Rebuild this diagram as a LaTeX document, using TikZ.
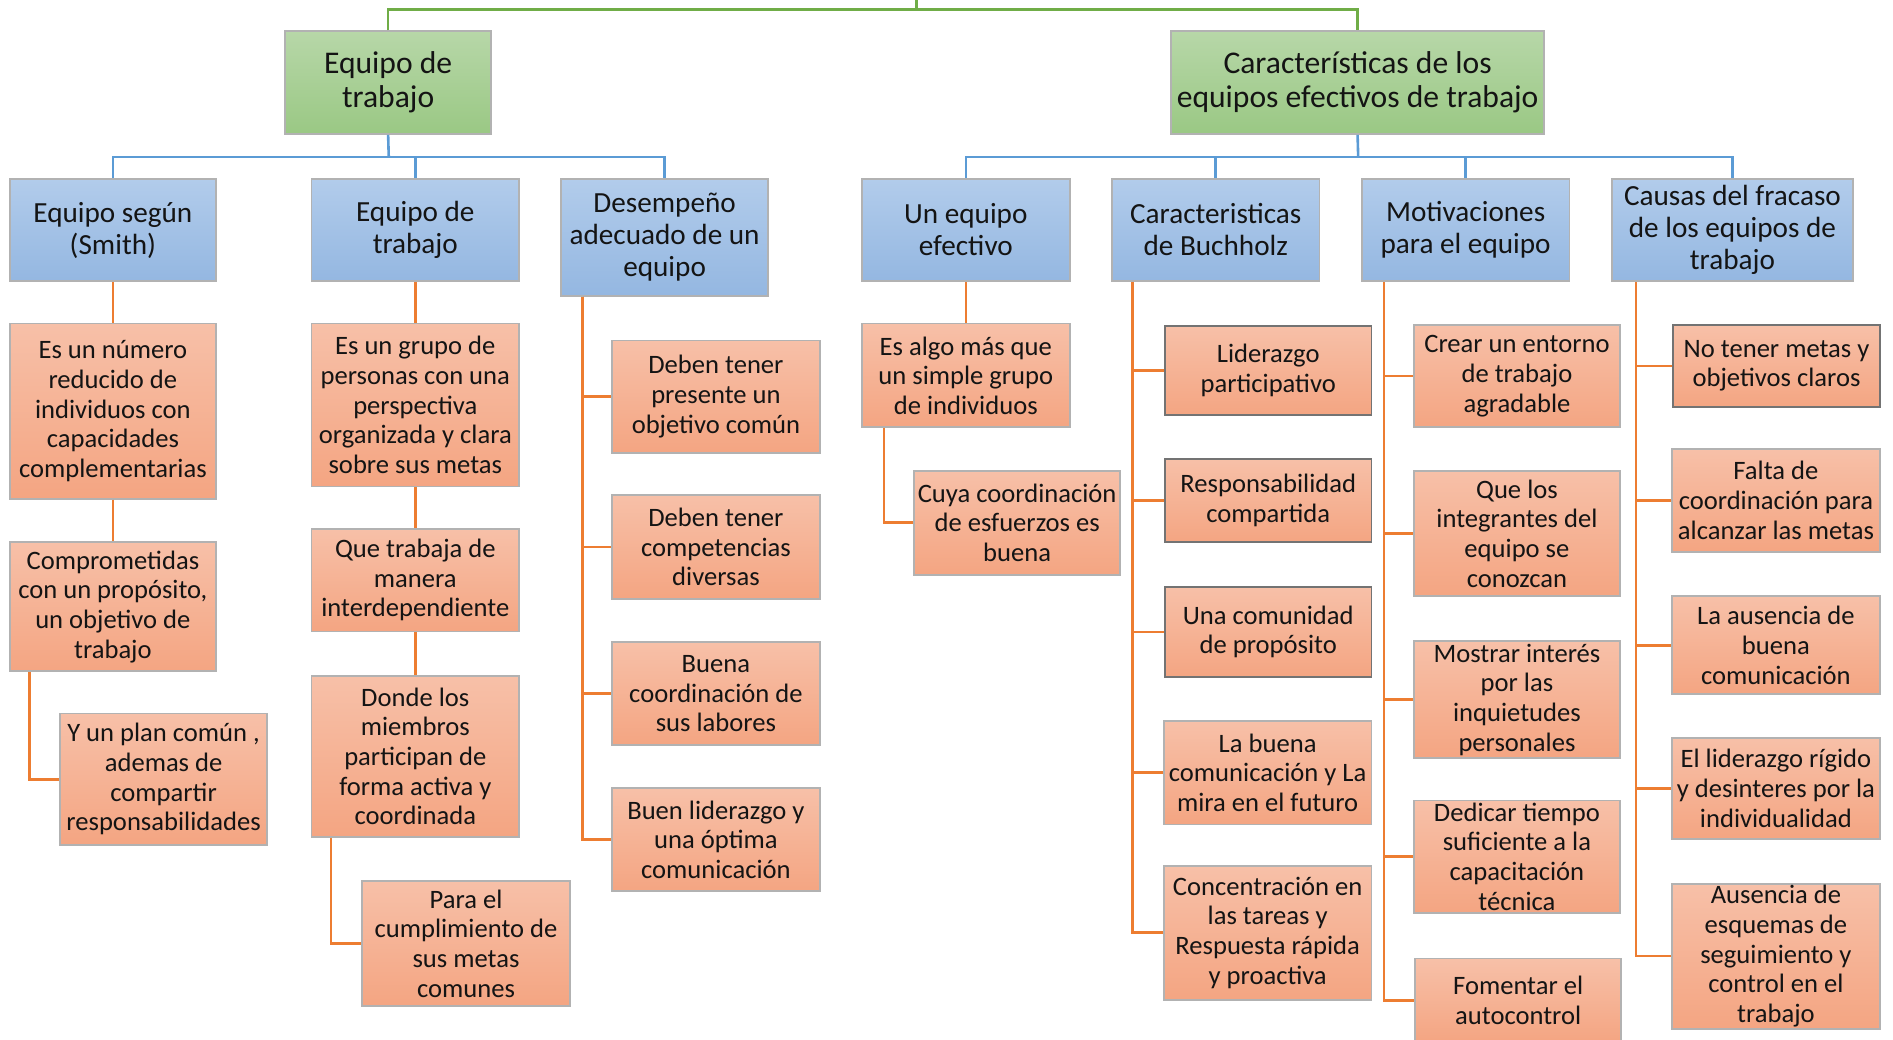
\documentclass[tikz,border=0pt]{standalone}
\usepackage{fontspec}
\setmainfont{Carlito}
\usetikzlibrary{calc}
\definecolor{otop}{RGB}{247,192,168}
\definecolor{obot}{RGB}{244,165,130}
\definecolor{btop}{RGB}{178,204,235}
\definecolor{bbot}{RGB}{148,183,225}
\definecolor{gtop}{RGB}{183,215,168}
\definecolor{gbot}{RGB}{154,200,132}
\definecolor{cO}{RGB}{237,125,49}
\definecolor{cB}{RGB}{91,155,213}
\definecolor{cG}{RGB}{112,173,71}
\tikzset{
  box/.style={rectangle, inner sep=0pt, align=center, text=black!92, draw=black!30, line width=0.9pt},
  obox/.style={box, top color=otop, bottom color=obot, font=\fontsize{13.3}{14.8}\selectfont},
  obdark/.style={obox, draw=black!55},
  bbox/.style={box, top color=btop, bottom color=bbot, font=\fontsize{14.6}{16}\selectfont},
  gbox/.style={box, top color=gtop, bottom color=gbot, font=\fontsize{15.8}{17}\selectfont},
  oln/.style={draw=cO, line width=1.3pt},
  bln/.style={draw=cB, line width=1.3pt},
  gln/.style={draw=cG, line width=1.3pt},
}
\newcommand\mybox[7]{\node[#6, minimum width={(#4-#2)*0.6037pt}, minimum height={(#5-#3)*0.6037pt}] (#1) at ({(#2+#4)/2},{(#3+#5)/2}) {#7};}
\begin{document}
\begin{tikzpicture}[x=0.6037pt, y=-0.6037pt]
\useasboundingbox (0,0) rectangle (1568,861);
% green
\mybox{g1}{236}{26}{407}{111}{gbox}{Equipo de\\trabajo}
\mybox{g2}{970}{26}{1279}{111}{gbox}{Características de los\\equipos efectivos de trabajo}
% blue
\mybox{b1}{8}{148}{179}{233}{bbox}{Equipo según\\(Smith)}
\mybox{b2}{258}{148}{430}{233}{bbox}{Equipo de\\trabajo}
\mybox{b3}{465}{148}{636}{245}{bbox}{Desempeño\\adecuado de un\\equipo}
\mybox{b4}{714}{148}{886}{233}{bbox}{Un equipo\\efectivo}
\mybox{b5}{921}{148}{1093}{233}{bbox}{Caracteristicas\\de Buchholz}
\mybox{b6}{1128}{148}{1300}{233}{bbox}{Motivaciones\\para el equipo}
\mybox{b7}{1335}{148}{1535}{233}{bbox}{Causas del fracaso\\de los equipos de\\trabajo}
% col1
\mybox{o11}{8}{268}{179}{413}{obox}{Es un número\\reducido de\\individuos con\\capacidades\\complementarias}
\mybox{o12}{8}{449}{179}{556}{obox}{Comprometidas\\con un propósito,\\un objetivo de\\trabajo}
\mybox{o13}{50}{591}{221}{700}{obox}{Y un plan común ,\\ademas de\\compartir\\responsabilidades}
% col2
\mybox{o21}{258}{268}{430}{403}{obox}{Es un grupo de\\personas con una\\perspectiva\\organizada y clara\\sobre sus metas}
\mybox{o22}{258}{438}{430}{523}{obox}{Que trabaja de\\manera\\interdependiente}
\mybox{o23}{258}{560}{430}{693}{obox}{Donde los\\miembros\\participan de\\forma activa y\\coordinada}
\mybox{o24}{300}{730}{472}{833}{obox}{Para el\\cumplimiento de\\sus metas\\comunes}
% col3
\mybox{o31}{507}{282}{679}{375}{obox}{Deben tener\\presente un\\objetivo común}
\mybox{o32}{507}{410}{679}{496}{obox}{Deben tener\\competencias\\diversas}
\mybox{o33}{507}{532}{679}{617}{obox}{Buena\\coordinación de\\sus labores}
\mybox{o34}{507}{653}{679}{738}{obox}{Buen liderazgo y\\una óptima\\comunicación}
% col4
\mybox{o41}{714}{268}{886}{354}{obox}{Es algo más que\\un simple grupo\\de individuos}
\mybox{o42}{757}{390}{928}{476}{obox}{Cuya coordinación\\de esfuerzos es\\buena}
% col5
\mybox{o51}{965}{270}{1136}{344}{obdark}{Liderazgo\\participativo}
\mybox{o52}{965}{380}{1136}{449}{obdark}{Responsabilidad\\compartida}
\mybox{o53}{965}{486}{1136}{561}{obdark}{Una comunidad\\de propósito}
\mybox{o54}{964}{597}{1136}{683}{obox}{La buena\\comunicación y La\\mira en el futuro}
\mybox{o55}{964}{717}{1136}{828}{obox}{Concentración en\\las tareas y\\Respuesta rápida\\y proactiva}
% col6
\mybox{o61}{1171}{269}{1342}{354}{obox}{Crear un entorno\\de trabajo\\agradable}
\mybox{o62}{1171}{390}{1342}{494}{obox}{Que los\\integrantes del\\equipo se\\conozcan}
\mybox{o63}{1171}{531}{1342}{628}{obox}{Mostrar interés\\por las\\inquietudes\\personales}
\mybox{o64}{1171}{663}{1342}{756}{obox}{Dedicar tiempo\\suficiente a la\\capacitación\\técnica}
\mybox{o65}{1172}{794}{1343}{863}{obox}{Fomentar el\\autocontrol}
% col7
\mybox{o71}{1386}{269}{1557}{337}{obdark}{No tener metas y\\objetivos claros}
\mybox{o72}{1385}{372}{1557}{457}{obox}{Falta de\\coordinación para\\alcanzar las metas}
\mybox{o73}{1385}{494}{1557}{575}{obox}{La ausencia de\\buena\\comunicación}
\mybox{o74}{1385}{611}{1557}{695}{obox}{El liderazgo rígido\\y desinteres por la\\individualidad}
\mybox{o75}{1385}{732}{1557}{852}{obox}{Ausencia de\\esquemas de\\seguimiento y\\control en el\\trabajo}
% green connectors
\coordinate (topc) at (759,8);
\coordinate (topend) at (759,0);
\draw[gln] (g1.north) |- (topc) -| (g2.north);
\draw[gln] (topc) -- (topend);
% blue connectors
\coordinate (bus1) at (322,130);
\coordinate (bus2) at (1125,130);
\draw[bln] (g1.south) -- (bus1);
\draw[bln] (b1.north) |- (bus1) -| (b3.north);
\draw[bln] (b2.north) |- (bus1);
\draw[bln] (g2.south) -- (bus2);
\draw[bln] (b4.north) |- (bus2) -| (b7.north);
\draw[bln] (b5.north) |- (bus2);
\draw[bln] (b6.north) |- (bus2);
% orange col1
\draw[oln] (b1.south) -- (o11.north);
\draw[oln] (o11.south) -- (o12.north);
\draw[oln] ($(o12.south west)+(17,0)$) |- (o13.west);
% col2
\draw[oln] (b2.south) -- (o21.north);
\draw[oln] (o21.south) -- (o22.north);
\draw[oln] (o22.south) -- (o23.north);
\draw[oln] ($(o23.south west)+(17,0)$) |- (o24.west);
% col3
\foreach \n in {o31,o32,o33,o34}{\draw[oln] ($(b3.south west)+(18,0)$) |- (\n.west);}
% col4
\draw[oln] (b4.south) -- (o41.north);
\draw[oln] ($(o41.south west)+(19,0)$) |- (o42.west);
% col5
\foreach \n in {o51,o52,o53,o54,o55}{\draw[oln] ($(b5.south west)+(18,0)$) |- (\n.west);}
% col6
\foreach \n in {o61,o62,o63,o64,o65}{\draw[oln] ($(b6.south west)+(19,0)$) |- (\n.west);}
% col7
\foreach \n in {o71,o72,o73,o74,o75}{\draw[oln] ($(b7.south west)+(21,0)$) |- (\n.west);}
\end{tikzpicture}
\end{document}
